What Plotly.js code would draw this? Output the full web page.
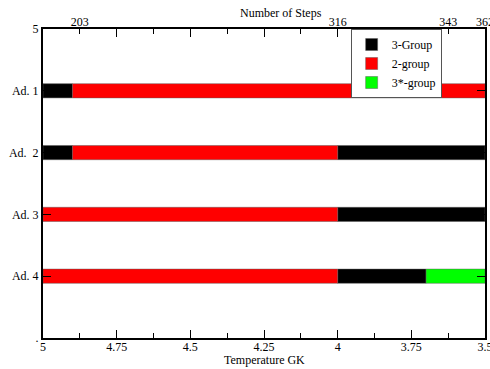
<!DOCTYPE html>
<html>
<head>
<meta charset="utf-8">
<script src="https://cdn.plot.ly/plotly-3.0.1.min.js"></script>
<style>html,body{margin:0;padding:0;background:#fff;}#chart{width:490px;height:369px;}</style>
</head>
<body>
<div id="chart"></div>
<script>
// Category positions and labels (y axis)
const yTickVals = [0, 1, 2, 3, 4, 5];
const yTickText = ["5", "Ad. 1", "Ad.  2", "Ad. 3", "Ad. 4", "."];

// Segments: category row, start temperature, end temperature (GK)
const blackRow = [1, 2, 2, 3, 4];
const blackFrom = [5, 5, 4, 4, 4];
const blackTo = [4.9, 4.9, 3.5, 3.5, 3.7];

const redRow = [1, 2, 3, 4];
const redFrom = [4.9, 4.9, 5, 5];
const redTo = [3.5, 4, 4, 4];

const greenRow = [4];
const greenFrom = [3.7];
const greenTo = [3.5];

// Top axis: number of steps at given temperatures
const stepTemps = [4.875, 4, 3.625, 3.5];
const stepLabels = ["203", "316", "343", "362"];

const xTickVals = [5, 4.75, 4.5, 4.25, 4, 3.75, 3.5];
const xTickText = ["5", "4.75", "4.5", "4.25", "4", "3.75", "3.5"];

function seg(name, rows, from, to, color) {
  return {
    type: 'bar', orientation: 'h', name: name,
    y: rows, base: from, x: to.map((t, i) => t - from[i]),
    width: 0.23,
    marker: {color: color, line: {color: 'rgba(90,90,90,0.6)', width: 0.8}},
    hoverinfo: 'skip'
  };
}

const traces = [
  seg('3-Group', blackRow, blackFrom, blackTo, '#000000'),
  seg('2-group', redRow, redFrom, redTo, '#ff0000'),
  seg('3*-group', greenRow, greenFrom, greenTo, '#00ff00'),
  {type: 'scatter', x: [null], y: [null], xaxis: 'x2', showlegend: false, hoverinfo: 'skip'}
];

const fontF = 'Liberation Serif, Times New Roman, serif';
const layout = {
  width: 490, height: 369,
  margin: {l: 43, r: 5, t: 29, b: 31},
  paper_bgcolor: '#fff', plot_bgcolor: '#fff',
  barmode: 'overlay',
  showlegend: true,
  font: {family: fontF, size: 12, color: '#000'},
  xaxis: {
    range: [5, 3.5], tickvals: xTickVals, ticktext: xTickText,
    ticks: 'inside', ticklen: 8, tickwidth: 1, tickcolor: '#000',
    minor: {ticks: 'inside', dtick: 0.125, tick0: 5, ticklen: 5, tickwidth: 1, tickcolor: '#000'},
    showline: true, linecolor: '#000', linewidth: 2, mirror: 'ticks',
    showgrid: false, zeroline: false, ticklabeloverflow: 'allow',
    ticklabelstandoff: -3,
    tickfont: {family: fontF, size: 12}
  },
  xaxis2: {
    overlaying: 'x', side: 'top', range: [5, 3.5],
    tickvals: stepTemps, ticktext: stepLabels, ticks: '',
    showline: false, showgrid: false, zeroline: false, ticklabeloverflow: 'allow',
    tickfont: {family: fontF, size: 12}
  },
  yaxis: {
    range: [5, 0], tickvals: yTickVals, ticktext: yTickText,
    ticks: 'inside', ticklen: 8, tickwidth: 1, tickcolor: '#000',
    showline: true, linecolor: '#000', linewidth: 2, mirror: 'ticks',
    showgrid: false, zeroline: false,
    tickfont: {family: fontF, size: 12}
  },
  annotations: [
    {text: 'Temperature GK', xref: 'paper', yref: 'paper', x: 0.5, y: 0, yshift: -22,
     xanchor: 'center', yanchor: 'middle', showarrow: false, font: {family: fontF, size: 12}},
    {text: 'Number of Steps', xref: 'paper', yref: 'paper', x: 0.538, y: 1, yshift: 16,
     xanchor: 'center', yanchor: 'middle', showarrow: false, font: {family: fontF, size: 12}}
  ],
  legend: {
    x: 0.696, y: 1, xanchor: 'left', yanchor: 'top',
    bgcolor: '#fff', bordercolor: '#555', borderwidth: 1,
    font: {family: fontF, size: 12}, tracegroupgap: 0, itemwidth: 30
  }
};

Plotly.newPlot('chart', traces, layout, {displayModeBar: false, staticPlot: true});
</script>
</body>
</html>
